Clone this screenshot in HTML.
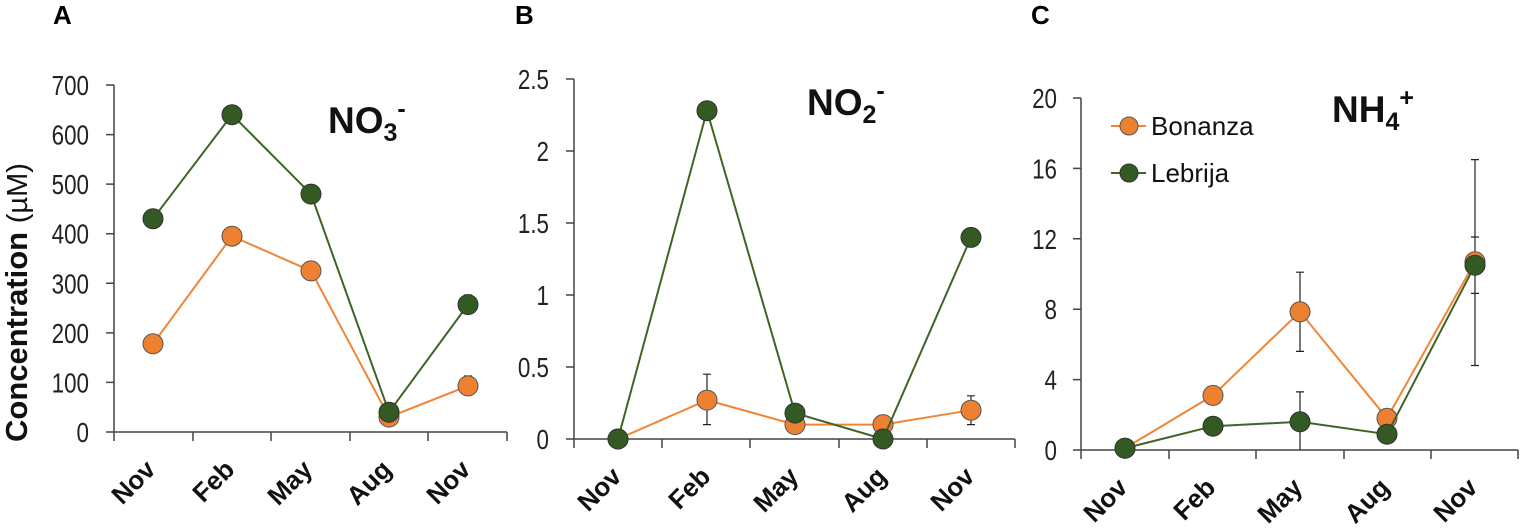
<!DOCTYPE html>
<html><head><meta charset="utf-8"><style>
html,body{margin:0;padding:0;background:#fff;}
svg{display:block;font-family:"Liberation Sans",Arial,sans-serif;}
.yt{font-size:28px;fill:#222;text-anchor:end;transform-box:fill-box;transform-origin:100% 50%;transform:scaleX(.8);}
.xt{font-size:26px;font-weight:bold;fill:#111;text-anchor:end;}
.ax{stroke:#444;stroke-width:1.5;fill:none;}
.og{stroke:#F08536;stroke-width:2;fill:none;}
.gr{stroke:#3F6428;stroke-width:2;fill:none;}
.mo{fill:#EE8131;stroke:#555;stroke-width:1;}
.mg{fill:#335A22;stroke:#333;stroke-width:1;}
.eb{stroke:#222;stroke-width:1.2;}
.ttl{font-size:37px;font-weight:bold;fill:#111;}
.lt{font-size:26px;font-weight:bold;fill:#000;}
</style></head><body>
<svg width="1527" height="528" viewBox="0 0 1527 528">
<text x="53" y="24" class="lt">A</text>
<text x="515" y="24" class="lt">B</text>
<text x="1031" y="24" class="lt">C</text>

<text transform="translate(27,442) rotate(-90)" font-size="31" font-weight="bold" fill="#111">Concentration <tspan font-weight="normal" font-size="29">(µM)</tspan></text>

<g>
<path class="ax" d="M114,85V432M106,85H114M106,134.6H114M106,184.1H114M106,233.7H114M106,283.3H114M106,332.9H114M106,382.4H114M106,432H114"/>
<path class="ax" d="M114,432H507M114,432V441M193,432V441M271,432V441M350,432V441M428,432V441M507,432V441"/>
<text class="yt" x="89" y="95">700</text>
<text class="yt" x="89" y="144.6">600</text>
<text class="yt" x="89" y="194.1">500</text>
<text class="yt" x="89" y="243.7">400</text>
<text class="yt" x="89" y="293.3">300</text>
<text class="yt" x="89" y="342.9">200</text>
<text class="yt" x="89" y="392.4">100</text>
<text class="yt" x="89" y="442">0</text>
<text class="xt" transform="translate(157,471) rotate(-45)">Nov</text>
<text class="xt" transform="translate(236,471) rotate(-45)">Feb</text>
<text class="xt" transform="translate(314,471) rotate(-45)">May</text>
<text class="xt" transform="translate(393,471) rotate(-45)">Aug</text>
<text class="xt" transform="translate(472,471) rotate(-45)">Nov</text>
<path class="eb" d="M468,395V376M464,395H472M464,376H472M468,313V295M464,313H472M464,295H472"/>
<polyline class="og" points="153,343.8 232,236.2 311,270.9 389,417.1 468,385.9"/>
<g class="mo"><circle cx="153" cy="343.8" r="10"/><circle cx="232" cy="236.2" r="10"/><circle cx="311" cy="270.9" r="10"/><circle cx="389" cy="417.1" r="10"/><circle cx="468" cy="385.9" r="10"/></g>
<polyline class="gr" points="153,218.8 232,114.7 311,194.1 389,412.2 468,304.6"/>
<g class="mg"><circle cx="153" cy="218.8" r="10"/><circle cx="232" cy="114.7" r="10"/><circle cx="311" cy="194.1" r="10"/><circle cx="389" cy="412.2" r="10"/><circle cx="468" cy="304.6" r="10"/></g>
<text class="ttl" x="328" y="133">NO<tspan font-size="25" dy="8">3</tspan><tspan font-size="25" dy="-24">-</tspan></text>
</g>

<g>
<path class="ax" d="M574,79V439M566,79H574M566,151H574M566,223H574M566,295H574M566,367H574M566,439H574"/>
<path class="ax" d="M574,439H1015M574,439V448M662,439V448M750,439V448M839,439V448M927,439V448M1015,439V448"/>
<text class="yt" x="549" y="89">2.5</text>
<text class="yt" x="549" y="161">2</text>
<text class="yt" x="549" y="233">1.5</text>
<text class="yt" x="549" y="305">1</text>
<text class="yt" x="549" y="377">0.5</text>
<text class="yt" x="549" y="449">0</text>
<text class="xt" transform="translate(623,478) rotate(-45)">Nov</text>
<text class="xt" transform="translate(712,478) rotate(-45)">Feb</text>
<text class="xt" transform="translate(800,478) rotate(-45)">May</text>
<text class="xt" transform="translate(888,478) rotate(-45)">Aug</text>
<text class="xt" transform="translate(976,478) rotate(-45)">Nov</text>
<path class="eb" d="M707,424.6V374.2M703,424.6H711M703,374.2H711M971,424.6V395.8M967,424.6H975M967,395.8H975"/>
<polyline class="og" points="618,439 707,400.1 795,424.6 883,424.6 971,410.2"/>
<g class="mo"><circle cx="618" cy="439" r="10"/><circle cx="707" cy="400.1" r="10"/><circle cx="795" cy="424.6" r="10"/><circle cx="883" cy="424.6" r="10"/><circle cx="971" cy="410.2" r="10"/></g>
<polyline class="gr" points="618,439 707,110.7 795,413.1 883,439 971,237.4"/>
<g class="mg"><circle cx="618" cy="439" r="10"/><circle cx="707" cy="110.7" r="10"/><circle cx="795" cy="413.1" r="10"/><circle cx="883" cy="439" r="10"/><circle cx="971" cy="237.4" r="10"/></g>
<text class="ttl" x="807" y="115">NO<tspan font-size="25" dy="8">2</tspan><tspan font-size="25" dy="-24">-</tspan></text>
</g>

<g>
<path class="ax" d="M1081,98V450M1073,98H1081M1073,168.4H1081M1073,238.8H1081M1073,309.2H1081M1073,379.6H1081M1073,450H1081"/>
<path class="ax" d="M1081,450H1518M1081,450V459M1169,450V459M1256,450V459M1344,450V459M1431,450V459M1518,450V459"/>
<text class="yt" x="1057" y="108">20</text>
<text class="yt" x="1057" y="178.4">16</text>
<text class="yt" x="1057" y="248.8">12</text>
<text class="yt" x="1057" y="319.2">8</text>
<text class="yt" x="1057" y="389.6">4</text>
<text class="yt" x="1057" y="460">0</text>
<text class="xt" transform="translate(1129,489) rotate(-45)">Nov</text>
<text class="xt" transform="translate(1217,489) rotate(-45)">Feb</text>
<text class="xt" transform="translate(1304,489) rotate(-45)">May</text>
<text class="xt" transform="translate(1391,489) rotate(-45)">Aug</text>
<text class="xt" transform="translate(1479,489) rotate(-45)">Nov</text>
<path class="eb" d="M1300,351.4V272.2M1296,351.4H1304M1296,272.2H1304M1300,450V391.9M1296,391.9H1304M1475,293.4V237M1471,293.4H1479M1471,237H1479M1475,365.5V159.6M1471,365.5H1479M1471,159.6H1479"/>
<polyline class="og" points="1125,448.2 1213,395.4 1300,311.8 1387,418.3 1475,261.7"/>
<g class="mo"><circle cx="1125" cy="448.2" r="10"/><circle cx="1213" cy="395.4" r="10"/><circle cx="1300" cy="311.8" r="10"/><circle cx="1387" cy="418.3" r="10"/><circle cx="1475" cy="261.7" r="10"/></g>
<polyline class="gr" points="1125,448.2 1213,426.2 1300,421.8 1387,434.2 1475,265.2"/>
<g class="mg"><circle cx="1125" cy="448.2" r="10"/><circle cx="1213" cy="426.2" r="10"/><circle cx="1300" cy="421.8" r="10"/><circle cx="1387" cy="434.2" r="10"/><circle cx="1475" cy="265.2" r="10"/></g>
<text class="ttl" x="1332" y="122">NH<tspan font-size="25" dy="8">4</tspan><tspan font-size="25" dy="-24">+</tspan></text>
<line class="og" x1="1111" y1="126" x2="1146" y2="126"/>
<circle class="mo" cx="1129" cy="126" r="9"/>
<text x="1151" y="135" font-size="26" fill="#111">Bonanza</text>
<line class="gr" x1="1111" y1="173" x2="1146" y2="173"/>
<circle class="mg" cx="1129" cy="173" r="9"/>
<text x="1151" y="182" font-size="26" fill="#111">Lebrija</text>
</g>
</svg>
</body></html>
